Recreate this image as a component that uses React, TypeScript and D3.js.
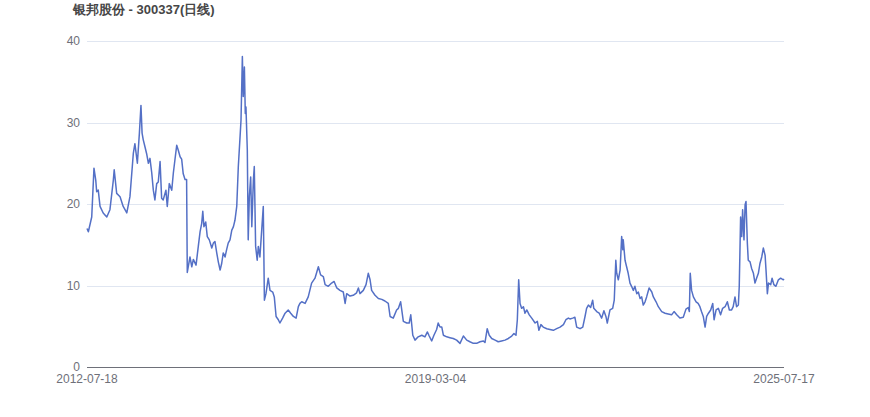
import React from "react";
import * as d3 from "d3";

const TITLE = "银邦股份 - 300337(日线)";
const TOTAL_DAYS = 3100;
const X_LABELS: [number, string][] = [
  [0, "2012-07-18"],
  [1550, "2019-03-04"],
  [3100, "2025-07-17"],
];
const Y_TICKS = [0, 10, 20, 30, 40];

// trading-day index of each sampled close
const dayIndex = [
  0, 6, 21, 31, 39, 43, 50, 58, 72, 88, 102, 117, 121, 132, 147, 161, 177, 191, 206, 213,
  224, 233, 240, 245, 250, 258, 265, 273, 280, 288, 295, 302, 310, 317, 325, 332, 339, 351, 357, 366,
  377, 384, 391, 399, 406, 414, 421, 428, 436, 443, 446, 458, 466, 473, 485, 495, 503, 510, 515, 520,
  528, 535, 544, 555, 562, 569, 577, 584, 592, 599, 606, 614, 621, 628, 636, 644, 651, 658, 666, 673,
  680, 685, 691, 695, 700, 704, 707, 713, 717, 722, 728, 733, 740, 744, 750, 757, 762, 769, 777, 784,
  789, 796, 806, 814, 826, 833, 841, 851, 858, 870, 881, 895, 906, 918, 930, 940, 947, 955, 970, 984,
  999, 1014, 1029, 1039, 1051, 1059, 1073, 1088, 1099, 1111, 1125, 1140, 1148, 1155, 1170, 1184, 1199, 1207, 1214, 1229,
  1241, 1251, 1259, 1266, 1281, 1296, 1311, 1325, 1340, 1348, 1362, 1377, 1385, 1395, 1407, 1422, 1433, 1440, 1449, 1459,
  1473, 1489, 1503, 1514, 1522, 1533, 1543, 1555, 1562, 1570, 1578, 1585, 1600, 1614, 1629, 1644, 1659, 1674, 1689, 1703,
  1718, 1733, 1748, 1763, 1770, 1780, 1789, 1800, 1815, 1829, 1844, 1859, 1874, 1889, 1899, 1908, 1914, 1920, 1926, 1933,
  1941, 1948, 1956, 1967, 1978, 1993, 2003, 2010, 2019, 2029, 2045, 2059, 2074, 2089, 2104, 2119, 2130, 2141, 2148, 2160,
  2170, 2178, 2193, 2205, 2215, 2222, 2230, 2240, 2249, 2254, 2267, 2278, 2289, 2299, 2308, 2314, 2326, 2338, 2345, 2352,
  2356, 2363, 2371, 2378, 2383, 2385, 2393, 2400, 2407, 2415, 2422, 2430, 2437, 2445, 2452, 2460, 2467, 2474, 2482, 2489,
  2500, 2512, 2519, 2531, 2541, 2556, 2571, 2585, 2600, 2611, 2623, 2637, 2652, 2664, 2674, 2679, 2683, 2689, 2697, 2709,
  2718, 2726, 2733, 2741, 2749, 2756, 2764, 2774, 2783, 2789, 2798, 2808, 2818, 2827, 2838, 2848, 2857, 2867, 2874, 2882,
  2889, 2897, 2901, 2907, 2912, 2916, 2922, 2927, 2931, 2937, 2941, 2949, 2956, 2964, 2971, 2978, 2986, 2993, 3001, 3008,
  3016, 3020, 3026, 3031, 3041, 3047, 3055, 3064, 3075, 3085, 3097, 3100,
];

// closing prices
const closePrice = [
  17.0, 16.6, 18.4, 24.4, 22.9, 21.5, 21.7, 19.7, 18.9, 18.4, 19.3, 22.9, 24.2, 21.3, 20.9, 19.7, 18.9, 20.9, 26.2, 27.4,
  25.0, 28.7, 32.1, 28.7, 27.9, 27.0, 26.2, 25.0, 25.6, 23.8, 21.7, 20.5, 22.5, 22.7, 25.2, 20.7, 20.5, 21.7, 19.7, 22.5,
  21.7, 23.8, 25.4, 27.2, 26.6, 25.8, 25.5, 23.7, 23.0, 23.0, 11.6, 13.5, 12.3, 13.2, 12.5, 14.8, 16.6, 17.6, 19.1, 17.2,
  17.8, 16.0, 15.6, 14.6, 15.2, 15.4, 14.0, 12.9, 11.9, 12.7, 14.0, 13.5, 14.4, 15.2, 15.6, 16.8, 17.2, 18.0, 19.7, 24.6,
  27.9, 30.3, 38.1, 33.2, 36.8, 31.1, 31.9, 26.6, 15.6, 20.9, 23.3, 17.2, 22.9, 24.6, 14.8, 13.1, 14.8, 13.5, 16.8, 19.7,
  8.2, 9.0, 10.9, 9.4, 9.2, 8.6, 6.2, 5.8, 5.4, 6.0, 6.6, 7.0, 6.6, 6.2, 6.0, 7.4, 7.8, 8.0, 7.8, 8.6,
  10.3, 10.9, 12.3, 11.3, 11.1, 10.1, 9.9, 10.3, 10.5, 9.7, 9.4, 9.2, 7.8, 9.0, 8.7, 8.8, 9.1, 9.7, 9.0, 9.4,
  10.1, 11.5, 10.7, 9.4, 8.8, 8.4, 8.3, 8.1, 7.8, 6.2, 6.0, 7.0, 7.2, 8.0, 5.6, 5.4, 5.4, 6.4, 3.9, 3.3,
  3.7, 3.9, 3.7, 4.3, 3.8, 3.2, 3.9, 4.6, 5.4, 4.9, 4.9, 3.9, 3.7, 3.6, 3.5, 3.3, 2.9, 3.8, 3.3, 3.1,
  2.9, 2.9, 3.1, 3.2, 3.0, 4.7, 3.9, 3.5, 3.3, 3.1, 3.2, 3.3, 3.5, 3.8, 4.1, 3.9, 5.8, 10.7, 7.8, 7.2,
  7.4, 6.6, 7.0, 6.4, 6.0, 5.4, 5.6, 4.5, 5.2, 4.9, 4.7, 4.6, 4.5, 4.7, 4.9, 5.2, 5.8, 6.0, 5.9, 6.0,
  6.1, 4.9, 4.7, 4.9, 6.2, 7.2, 7.6, 7.3, 8.2, 7.2, 6.8, 6.6, 6.0, 6.9, 6.2, 5.4, 7.0, 7.2, 8.2, 13.1,
  11.5, 10.7, 11.9, 16.0, 14.4, 15.6, 13.1, 12.3, 11.5, 10.3, 9.9, 9.4, 9.9, 9.0, 9.2, 8.4, 8.6, 7.6, 8.0, 8.6,
  9.7, 9.2, 8.6, 8.0, 7.4, 6.8, 6.6, 6.5, 6.4, 6.8, 6.4, 6.0, 6.1, 7.1, 7.3, 6.8, 11.5, 9.4, 8.6, 8.0,
  7.8, 7.4, 6.8, 6.2, 4.9, 6.2, 6.6, 7.0, 7.8, 5.8, 7.0, 7.2, 6.4, 7.2, 7.4, 8.0, 7.0, 7.0, 7.4, 8.6,
  7.4, 7.6, 9.9, 18.4, 16.0, 19.3, 15.6, 19.9, 20.3, 15.2, 13.1, 12.9, 12.1, 11.5, 10.3, 10.9, 11.5, 12.7, 13.5, 14.6,
  13.7, 11.9, 9.0, 10.3, 10.1, 10.9, 10.1, 9.9, 10.7, 10.9, 10.7, 10.8,
];

const W = 870;
const H = 417;
const M = { left: 87, right: 86, top: 41, bottom: 50 };

export default function App() {
  const x = d3.scaleLinear().domain([0, TOTAL_DAYS]).range([M.left, W - M.right]);
  const y = d3.scaleLinear().domain([0, 40]).range([H - M.bottom, M.top]);
  const pts: [number, number][] = dayIndex.map((d, i) => [d, closePrice[i]]);
  const line = d3
    .line<[number, number]>()
    .x((d) => x(d[0]))
    .y((d) => y(d[1]));
  const font = "'Liberation Sans', Arial, sans-serif";
  return (
    <svg
      width={W}
      height={H}
      style={{ position: "absolute", left: 0, top: 0, background: "#fff" }}
    >
      <text x={73} y={14} fontFamily={font} fontSize={13} fontWeight="bold" fill="#464646">
        {TITLE}
      </text>
      {Y_TICKS.filter((t) => t > 0).map((t) => (
        <line
          key={"g" + t}
          x1={M.left}
          x2={W - M.right}
          y1={Math.round(y(t)) + 0.5}
          y2={Math.round(y(t)) + 0.5}
          stroke="#E0E6F1"
          strokeWidth={1}
        />
      ))}
      {Y_TICKS.map((t) => (
        <text
          key={"yl" + t}
          x={M.left - 7}
          y={y(t)}
          dy="0.35em"
          textAnchor="end"
          fontFamily={font}
          fontSize={12}
          fill="#6E7079"
        >
          {t}
        </text>
      ))}
      <line
        x1={M.left}
        x2={W - M.right}
        y1={Math.round(y(0)) + 0.5}
        y2={Math.round(y(0)) + 0.5}
        stroke="#6E7079"
        strokeWidth={1}
      />
      {X_LABELS.map(([d, s]) => (
        <text
          key={s}
          x={x(d)}
          y={y(0) + 16}
          textAnchor="middle"
          fontFamily={font}
          fontSize={12}
          fill="#6E7079"
        >
          {s}
        </text>
      ))}
      <path d={line(pts) || ""} fill="none" stroke="#5470c6" strokeWidth={1.5} strokeLinejoin="round" />
    </svg>
  );
}
